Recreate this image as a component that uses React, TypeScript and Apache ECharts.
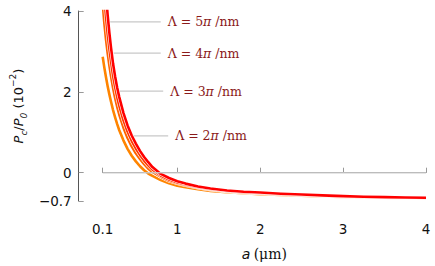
import React, { useEffect, useRef } from "react";
import * as echarts from "echarts";

const aValues = [0.1, 0.12, 0.14, 0.16, 0.18, 0.2, 0.225, 0.25, 0.275, 0.3, 0.35, 0.4, 0.45, 0.5, 0.55, 0.6, 0.65, 0.7, 0.8, 0.9, 1.0, 1.1, 1.25, 1.4, 1.6, 1.8, 2.0, 2.25, 2.5, 2.75, 3.0, 3.25, 3.5, 3.75, 4.0];
const lambda2 = [2.87, 2.6, 2.36, 2.14, 1.94, 1.76, 1.55, 1.37, 1.2, 1.05, 0.8, 0.59, 0.42, 0.28, 0.16, 0.06, -0.02, -0.08, -0.18, -0.26, -0.32, -0.36, -0.41, -0.45, -0.48, -0.51, -0.53, -0.55, -0.57, -0.585, -0.6, -0.61, -0.62, -0.625, -0.63];
const lambda3 = [4.2, 3.7, 3.3, 2.96, 2.66, 2.4, 2.1, 1.85, 1.63, 1.44, 1.12, 0.86, 0.65, 0.48, 0.34, 0.21, 0.1, 0.02, -0.1, -0.2, -0.26, -0.31, -0.37, -0.42, -0.46, -0.49, -0.51, -0.535, -0.555, -0.57, -0.59, -0.6, -0.61, -0.62, -0.625];
const lambda4 = [5.0, 4.35, 3.85, 3.43, 3.07, 2.76, 2.4, 2.12, 1.87, 1.66, 1.3, 1.02, 0.79, 0.6, 0.44, 0.3, 0.18, 0.08, -0.07, -0.17, -0.24, -0.29, -0.355, -0.405, -0.45, -0.48, -0.5, -0.525, -0.55, -0.565, -0.585, -0.6, -0.61, -0.615, -0.625];
const lambda5 = [5.7, 5.0, 4.4, 3.9, 3.47, 3.1, 2.7, 2.38, 2.1, 1.87, 1.48, 1.17, 0.92, 0.72, 0.54, 0.39, 0.26, 0.14, -0.03, -0.13, -0.21, -0.27, -0.34, -0.39, -0.44, -0.47, -0.49, -0.52, -0.54, -0.56, -0.58, -0.595, -0.605, -0.615, -0.62];

const seriesNames = ["2", "3", "4", "5"];
const seriesValues = [lambda2, lambda3, lambda4, lambda5];
const seriesColors = ["#ff8400", "#ff6200", "#ff3400", "#ff0000"];

// label leader lines: [a start, a end, level]
const labelLeaders = [
  [0.41, 0.89, 0.91],
  [0.26, 0.83, 2.02],
  [0.2, 0.8, 2.96],
  [0.17, 0.8, 3.73],
];

const xTicks = [0.1, 1, 2, 3, 4];
const yTicks = [-0.7, 0, 2, 4];

export default function App() {
  const ref = useRef<HTMLDivElement>(null);
  useEffect(() => {
    if (!ref.current) return;
    const chart = echarts.init(ref.current, null, { renderer: "svg" });
    const series: any[] = [];
    labelLeaders.forEach((l, i) => {
      series.push({
        type: "line",
        data: [[l[0], l[2]], [l[1], l[2]]],
        symbol: "none",
        silent: true,
        lineStyle: { color: "#c8c8c8", width: 1.2 },
        endLabel: {
          show: true,
          distance: 7,
          formatter: () => `{t|Λ = ${seriesNames[i]}}{p|π}{t| /nm}`,
          rich: {
            t: { fontFamily: "DejaVu Serif", fontSize: 12.5, color: "#8b1a1a" },
            p: { fontFamily: "DejaVu Serif", fontStyle: "italic", fontSize: 12.5, color: "#8b1a1a" },
          },
        },
      });
    });
    seriesValues.forEach((vals, i) => {
      const data = aValues.map((a, j) => [a, vals[j]]);
      series.push({
        type: "line",
        data,
        symbol: "none",
        smooth: false,
        silent: true,
        lineStyle: { color: "#ffffff", width: 3.8, join: "round" },
      });
      series.push({
        type: "line",
        data,
        symbol: "none",
        smooth: false,
        silent: true,
        lineStyle: { color: seriesColors[i], width: 2.6, join: "round" },
      });
    });
    series.push({
      type: "line",
      data: [[0.1, 0], [4, 0]],
      symbol: "none",
      silent: true,
      lineStyle: { color: "#c8c8c8", width: 1.5, opacity: 0.9 },
    });

    chart.setOption({
      animation: false,
      grid: { left: 102, right: 9, top: 11, bottom: 65, containLabel: false },
      xAxis: {
        type: "value",
        min: 0.1,
        max: 4,
        offset: 9,
        name: "{i|a} {s|(μm)}",
        nameLocation: "middle",
        nameGap: 37,
        nameTextStyle: {
          rich: {
            i: { fontFamily: "DejaVu Sans", fontStyle: "italic", fontSize: 14, color: "#111" },
            s: { fontFamily: "DejaVu Serif", fontSize: 14, color: "#111" },
          },
        },
        axisLine: { show: true, lineStyle: { color: "#555", width: 1 } },
        axisTick: { show: true, inside: true, length: 5, lineStyle: { color: "#999" }, customValues: xTicks },
        axisLabel: {
          customValues: xTicks,
          margin: 12,
          fontFamily: "DejaVu Sans",
          fontSize: 13.5,
          color: "#111",
          formatter: (v: number) => (v === 0.1 ? "0.1" : String(v)),
        },
        splitLine: { show: false },
      },
      yAxis: {
        type: "value",
        min: -0.7,
        max: 4,
        offset: 24,
        name: "{i|P}{s|c}{n|/}{i|P}{s|0}{n| (10}{u|−2}{n|)}",
        nameLocation: "middle",
        nameGap: 48,
        nameRotate: 90,
        nameTextStyle: {
          rich: {
            i: { fontFamily: "DejaVu Sans", fontStyle: "italic", fontSize: 13, color: "#111", lineHeight: 20 },
            n: { fontFamily: "DejaVu Sans", fontSize: 13, color: "#111", lineHeight: 20 },
            s: { fontFamily: "DejaVu Sans", fontStyle: "italic", fontSize: 9, color: "#111", verticalAlign: "bottom", lineHeight: 20 },
            u: { fontFamily: "DejaVu Sans", fontSize: 9, color: "#111", verticalAlign: "top", lineHeight: 20 },
          },
        },
        axisLine: { show: true, lineStyle: { color: "#555", width: 1 } },
        axisTick: { show: true, inside: true, length: 5, lineStyle: { color: "#999" }, customValues: yTicks },
        axisLabel: {
          customValues: yTicks,
          margin: 7,
          fontFamily: "DejaVu Sans",
          fontSize: 13.5,
          color: "#111",
          formatter: (v: number) => (v < 0 ? "−" + String(-v) : String(v)),
        },
        splitLine: { show: false },
      },
      series,
    });
    return () => chart.dispose();
  }, []);
  return (
    <div
      ref={ref}
      style={{ position: "absolute", left: 0, top: 0, width: 435, height: 266 }}
    />
  );
}
